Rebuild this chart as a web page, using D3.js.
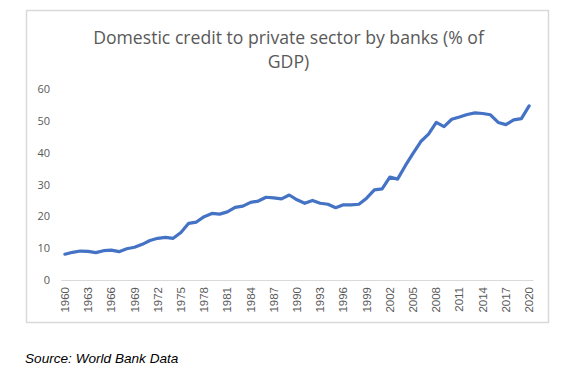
<!DOCTYPE html>
<html>
<head>
<meta charset="utf-8">
<script src="https://cdn.jsdelivr.net/npm/d3@7"></script>
<style>
  html, body { margin: 0; padding: 0; background: #fff; }
  svg { display: block; }
</style>
</head>
<body>
<svg id="chart" width="580" height="380"></svg>
<script>
const years = d3.range(1960, 2021).map(String);
const credit = [
  8.1, 8.7, 9.1, 9.0, 8.6, 9.2, 9.4, 8.9, 9.8, 10.3,
  11.2, 12.4, 13.1, 13.4, 13.1, 14.9, 17.8, 18.2, 19.9, 20.9,
  20.7, 21.4, 22.8, 23.2, 24.4, 24.8, 26.0, 25.8, 25.5, 26.7,
  25.2, 24.1, 25.0, 24.1, 23.8, 22.7, 23.6, 23.6, 23.8, 25.7,
  28.3, 28.6, 32.3, 31.7, 35.9, 39.8, 43.5, 45.8, 49.5, 48.2,
  50.5, 51.2, 52.0, 52.5, 52.3, 51.9, 49.5, 48.8, 50.3, 50.7,
  54.7
];
const yTicks = [0, 10, 20, 30, 40, 50, 60];
const xTickLabels = years.filter((d, i) => i % 3 === 0);
const titleLines = ["Domestic credit to private sector by banks (% of", "GDP)"];
const sourceLabel = "Source:";
const sourceText = "World Bank Data";

const svg = d3.select("#chart");

// chart frame
svg.append("rect")
  .attr("x", 26.5).attr("y", 10.5)
  .attr("width", 522).attr("height", 312)
  .attr("fill", "#fff")
  .attr("stroke", "#d9d9d9").attr("stroke-width", 1.5);

// title
const title = svg.append("text")
  .attr("text-anchor", "middle")
  .attr("font-family", "'Open Sans', sans-serif")
  .attr("font-size", 17.5)
  .attr("fill", "#595959");
title.selectAll("tspan")
  .data(titleLines)
  .join("tspan")
  .attr("x", 288.5)
  .attr("y", (d, i) => 44 + i * 24)
  .text(d => d);
// fit first title line to the reference width (~391px)
const t1 = title.select("tspan").node();
const w1 = t1.getComputedTextLength();
if (w1 > 0) title.attr("font-size", Math.max(15, Math.min(20, 17.5 * 391 / w1)));

const x = d3.scaleBand().domain(years).range([61, 533]);
const y = d3.scaleLinear().domain([0, 60]).range([280, 89]);

// y axis labels
const yAxis = d3.axisLeft(y).tickValues(yTicks).tickSize(0).tickPadding(0);
const gy = svg.append("g").attr("transform", "translate(50,0)").call(yAxis);
gy.select(".domain").remove();
gy.selectAll("text")
  .attr("font-family", "'Open Sans', sans-serif")
  .attr("font-size", 11)
  .attr("fill", "#595959");

// x axis
const xAxis = d3.axisBottom(x).tickValues(xTickLabels).tickSize(0).tickPadding(0);
const gx = svg.append("g").attr("transform", "translate(0,280)").call(xAxis);
gx.select(".domain").attr("stroke", "#d9d9d9").attr("stroke-width", 1);
gx.selectAll("text")
  .attr("font-family", "'Liberation Sans', Arial, sans-serif")
  .attr("font-size", 11.5)
  .attr("fill", "#595959")
  .attr("text-anchor", "end")
  .attr("dy", null)
  .attr("transform", "translate(4,7) rotate(-90)")
  .attr("x", 0).attr("y", 0);

// line
const line = d3.line()
  .x((d, i) => x(years[i]) + x.bandwidth() / 2)
  .y(d => y(d));

svg.append("path")
  .datum(credit)
  .attr("d", line)
  .attr("fill", "none")
  .attr("stroke", "#4472c4")
  .attr("stroke-width", 3.2)
  .attr("stroke-linejoin", "round")
  .attr("stroke-linecap", "round");

// source
const src = svg.append("text")
  .attr("x", 25).attr("y", 363)
  .attr("font-family", "'Liberation Sans', Arial, sans-serif")
  .attr("font-size", 13.6)
  .attr("font-style", "italic")
  .attr("fill", "#000");
src.append("tspan").text(sourceLabel + " ");
src.append("tspan").text(sourceText);
</script>
</body>
</html>
